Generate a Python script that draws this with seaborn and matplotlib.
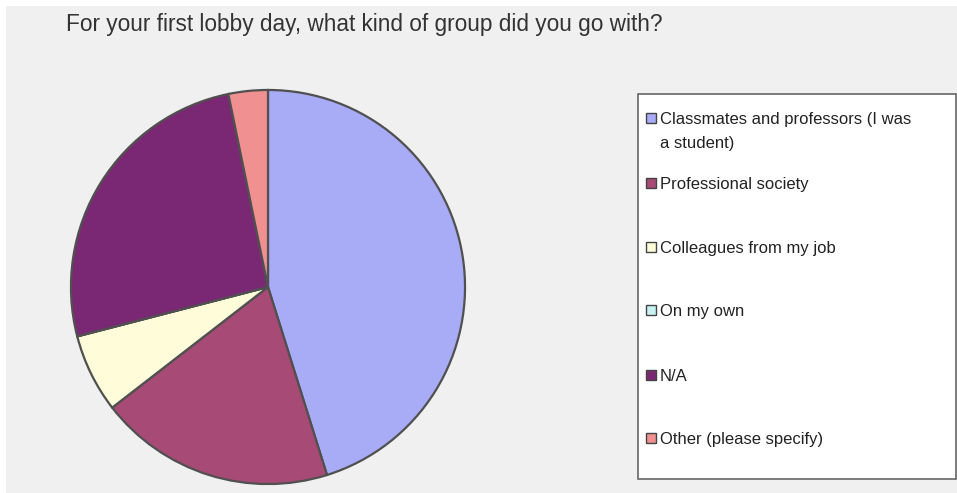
import matplotlib
matplotlib.use("Agg")
import matplotlib.pyplot as plt
from matplotlib.patches import Rectangle
import seaborn as sns

# ---- data ----
title = "For your first lobby day, what kind of group did you go with?"
categories = [
    "Classmates and professors (I was",
    "Professional society",
    "Colleagues from my job",
    "On my own",
    "N/A",
    "Other (please specify)",
]
label_continuation = ["a student)", "", "", "", "", ""]
counts = [14, 6, 2, 0, 8, 1]
colors = ["#a8abf6", "#a84a76", "#fefcd9", "#c8f2f2", "#7a2873", "#f09090"]

sns.set_theme(style="white")
plt.rcParams["font.family"] = ["Liberation Sans", "DejaVu Sans"]

W, H = 957, 493
fig = plt.figure(figsize=(W / 100, H / 100), dpi=100)
fig.patch.set_facecolor("white")

def fx(px):
    return px / W

def fy(py):
    return 1 - py / H

# gray panel
fig.patches.append(Rectangle((fx(6), 0), fx(957) - fx(6), fy(6), transform=fig.transFigure,
                             facecolor="#f0f0f0", edgecolor="none", zorder=-5))

# pie
cx, cy, r = 268, 287, 199
ax = fig.add_axes([fx(cx - r), fy(cy + r), (2 * r) / W, (2 * r) / H])
ax.set_zorder(5)
ax.set_facecolor("none")
ax.pie(counts, colors=colors, startangle=90, counterclock=False, radius=1,
       wedgeprops=dict(edgecolor="#505050", linewidth=1.6))
ax.set_xlim(-1.01, 1.01)
ax.set_ylim(-1.01, 1.01)
ax.set_axis_off()

# title
fig.text(fx(66), fy(25), title, fontsize=16.3, color="#333333", ha="left", va="center")

# legend box
fig.patches.append(Rectangle((fx(638), fy(479)), fx(956) - fx(638), fy(94) - fy(479),
                             transform=fig.transFigure, facecolor="white",
                             edgecolor="#666666", linewidth=1.2, zorder=1))
ys = [118, 183, 247, 310, 375, 438]
for lab, cont, col, y in zip(categories, label_continuation, colors, ys):
    fig.patches.append(Rectangle((fx(646), fy(y + 5)), 10 / W, 10 / H, transform=fig.transFigure,
                                 facecolor=col, edgecolor="#444444", linewidth=1.0, zorder=2))
    fig.text(fx(660), fy(y + 6), lab, fontsize=12, color="#222222", ha="left", va="baseline",
             zorder=3)
    if cont:
        fig.text(fx(660), fy(y + 30), cont, fontsize=12, color="#222222", ha="left",
                 va="baseline", zorder=3)

fig.savefig("out.png", dpi=100)
